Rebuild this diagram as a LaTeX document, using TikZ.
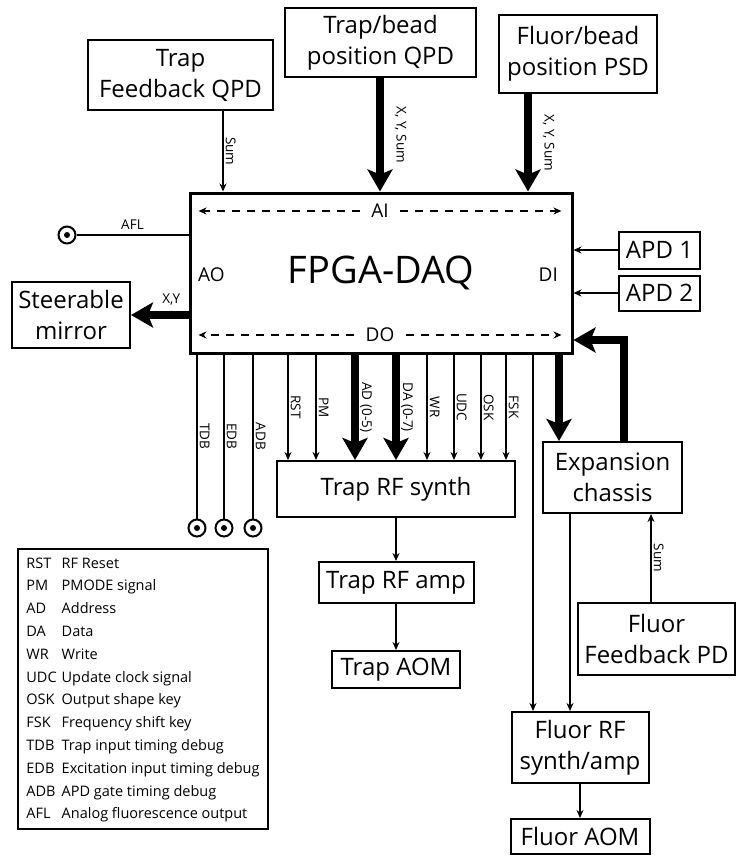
\documentclass[tikz,border=0pt]{standalone}
\usepackage{fontspec}
\setmainfont{Open Sans}
\usetikzlibrary{arrows.meta,positioning,calc}
\newcommand{\blockfont}{\fontsize{24}{31}\selectfont}
\newcommand{\fpgafont}{\fontsize{38}{44}\selectfont}
\newcommand{\portfont}{\fontsize{19}{22}\selectfont}
\newcommand{\sigfont}{\fontsize{13.5}{16}\selectfont}
\newcommand{\keyfont}{\fontsize{14.5}{22.8}\selectfont}
\tikzset{
  blockbox/.style={
    draw=black,
    line width=2pt,
    align=center,
    inner sep=0pt,
    font=\blockfont
  },
  portlbl/.style={
    inner sep=0pt,
    font=\portfont
  },
  siglabel/.style={
    rotate=-90,
    anchor=south,
    inner sep=2pt,
    font=\sigfont
  },
  sigline/.style={
    line width=1.5pt,
    draw=black
  },
  thinarrow/.style={
    -{Stealth[length=8pt,width=7pt]},
    line width=1.5pt,
    draw=black
  },
  thickarrow/.style={
    -{Stealth[length=22pt,width=25pt,inset=5pt]},
    line width=8pt,
    draw=black
  },
  dasharrow/.style={
    -{Stealth[length=8pt,width=7pt]},
    line width=1.3pt,
    dash pattern=on 8pt off 7pt,
    draw=black
  },
  jack/.style={
    circle,
    draw=black,
    line width=2pt,
    minimum size=17pt,
    inner sep=0pt,
    path picture={\fill (path picture bounding box.center) circle (3pt);}
  }
}
\begin{document}
\begin{tikzpicture}[x=1pt,y=-1pt]
\useasboundingbox (0,0) rectangle (737,856);
\node[blockbox, line width=3pt, minimum width=382pt, minimum height=160pt, font=\fpgafont] (fpga) at (381,273) {FPGA-DAQ};
\node[portlbl, inner xsep=11pt] (ailbl) at (380,211) {AI};
\node[portlbl, inner xsep=11pt] (dolbl) at (380,335) {DO};
\node[portlbl, anchor=west] (aolbl) at (198,275) {AO};
\node[portlbl, anchor=east] (dilbl) at (558,275) {DI};
\draw[dasharrow] (ailbl.west) -- ($(fpga.west |- ailbl)+(10,0)$);
\draw[dasharrow] (ailbl.east) -- ($(fpga.east |- ailbl)+(-12,0)$);
\draw[dasharrow] (dolbl.west) -- ($(fpga.west |- dolbl)+(10,0)$);
\draw[dasharrow] (dolbl.east) -- ($(fpga.east |- dolbl)+(-12,0)$);

\node[blockbox, minimum width=185pt, minimum height=70pt] (tfqpd) at (180.5,75) {Trap\\Feedback QPD};
\node[blockbox, minimum width=191pt, minimum height=69pt] (tbqpd) at (380.5,42.5) {Trap/bead\\position QPD};
\node[blockbox, minimum width=158pt, minimum height=78pt] (fbpsd) at (578,54) {Fluor/bead\\position PSD};
\node[blockbox, minimum width=118pt, minimum height=66pt] (mirror) at (71,315) {Steerable\\mirror};
\node[blockbox, minimum width=81pt, minimum height=37pt] (apd1) at (659.5,250) {APD 1};
\node[blockbox, minimum width=81pt, minimum height=35pt] (apd2) at (659.5,293) {APD 2};
\node[blockbox, minimum width=238pt, minimum height=56pt] (synth) at (396,489) {Trap RF synth};
\node[blockbox, minimum width=155pt, minimum height=41pt] (amp) at (396,582.5) {Trap RF amp};
\node[blockbox, minimum width=128pt, minimum height=37pt] (aom) at (396,669.5) {Trap AOM};
\node[blockbox, minimum width=139pt, minimum height=71pt] (chassis) at (612.5,477.5) {Expansion\\chassis};
\node[blockbox, minimum width=157pt, minimum height=72pt] (fpd) at (656.5,639) {Fluor\\Feedback PD};
\node[blockbox, minimum width=137pt, minimum height=71pt] (frf) at (580,747.5) {Fluor RF\\synth/amp};
\node[blockbox, minimum width=139pt, minimum height=35pt] (faom) at (580,836.5) {Fluor AOM};

\node[jack] (afljack) at (67,235) {};
\node[jack] (tdbjack) at (197,528) {};
\node[jack] (edbjack) at (224,528) {};
\node[jack] (adbjack) at (253,528) {};

\node[draw=black, line width=2pt, anchor=north west, minimum width=250pt, minimum height=280pt, inner sep=0pt, font=\keyfont] (legend) at (17,548) {%
\begin{tabular}{@{}l@{\hspace{5pt}}l@{}}
RST & RF Reset\\
PM & PMODE signal\\
AD & Address\\
DA & Data\\
WR & Write\\
UDC & Update clock signal\\
OSK & Output shape key\\
FSK & Frequency shift key\\
TDB & Trap input timing debug\\
EDB & Excitation input timing debug\\
ADB & APD gate timing debug\\
AFL & Analog fluorescence output
\end{tabular}};

\draw[thinarrow] (tfqpd.south -| 223,0) -- node[siglabel] {Sum} (fpga.north -| 223,0);
\draw[thickarrow] (tbqpd.south -| 380,0) -- node[siglabel, outer ysep=13pt] {X, Y, Sum} (fpga.north -| 380,0);
\draw[thickarrow] (fbpsd.south -| 528,0) -- node[siglabel, outer ysep=13pt] {X, Y, Sum} (fpga.north -| 528,0);
\draw[sigline] (afljack) -- node[above=3pt, inner sep=2pt, font=\sigfont] {AFL} (afljack -| fpga.west);
\draw[thickarrow] (fpga.west |- mirror) -- node[pos=0.3, above=4pt, inner sep=2pt, font=\sigfont] {X,Y} (mirror.east);
\draw[thinarrow] (apd1.west) -- (apd1 -| fpga.east);
\draw[thinarrow] (apd2.west) -- (apd2 -| fpga.east);
\draw[thickarrow] (chassis.north -| 624,0) |- (fpga.east |- 0,340);

\draw[sigline] (fpga.south -| tdbjack) -- node[siglabel] {TDB} (tdbjack);
\draw[sigline] (fpga.south -| edbjack) -- node[siglabel] {EDB} (edbjack);
\draw[sigline] (fpga.south -| adbjack) -- node[siglabel] {ADB} (adbjack);
\draw[thinarrow] (fpga.south -| 288,0) -- node[siglabel] {RST} (synth.north -| 288,0);
\draw[thinarrow] (fpga.south -| 316,0) -- node[siglabel] {PM} (synth.north -| 316,0);
\draw[thickarrow] (fpga.south -| 355,0) -- node[siglabel, outer ysep=3pt] {AD (0-5)} (synth.north -| 355,0);
\draw[thickarrow] (fpga.south -| 396,0) -- node[siglabel, outer ysep=3pt] {DA (0-7)} (synth.north -| 396,0);
\draw[thinarrow] (fpga.south -| 427,0) -- node[siglabel] {WR} (synth.north -| 427,0);
\draw[thinarrow] (fpga.south -| 454,0) -- node[siglabel] {UDC} (synth.north -| 454,0);
\draw[thinarrow] (fpga.south -| 481,0) -- node[siglabel] {OSK} (synth.north -| 481,0);
\draw[thinarrow] (fpga.south -| 506,0) -- node[siglabel] {FSK} (synth.north -| 506,0);
\draw[thinarrow] (fpga.south -| 533,0) -- (frf.north -| 533,0);
\draw[thickarrow] (fpga.south -| 559,0) -- (chassis.north -| 559,0);

\draw[thinarrow] (synth) -- (amp);
\draw[thinarrow] (amp) -- (aom);
\draw[thinarrow] (chassis.south -| 570,0) -- (frf.north -| 570,0);
\draw[thinarrow] (fpd.north -| 651,0) -- node[siglabel] {Sum} (chassis.south -| 651,0);
\draw[thinarrow] (frf) -- (faom);
\end{tikzpicture}
\end{document}
